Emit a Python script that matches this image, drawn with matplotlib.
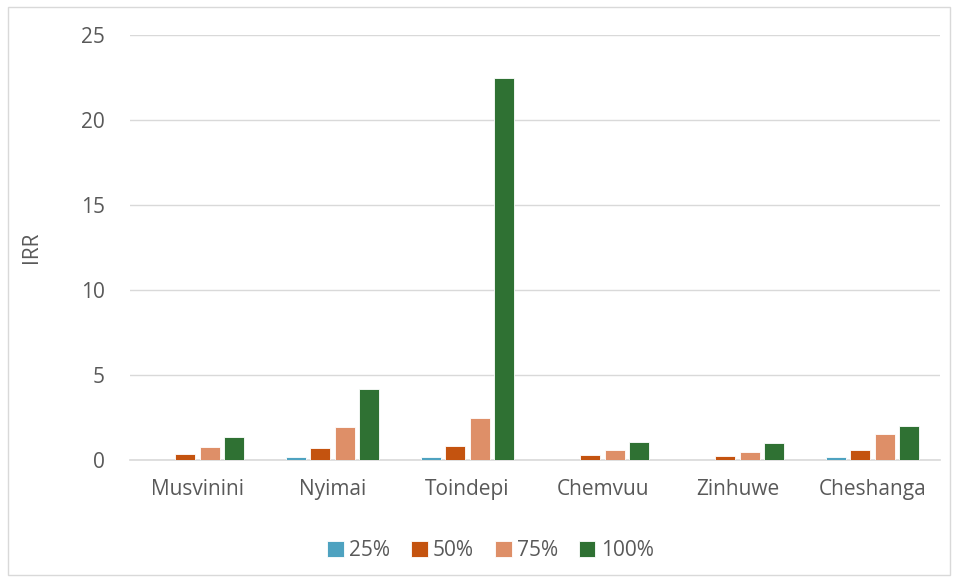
import matplotlib.pyplot as plt
import numpy as np
from matplotlib.patches import Rectangle

sites = ['Musvinini', 'Nyimai', 'Toindepi', 'Chemvuu', 'Zinhuwe', 'Cheshanga']
levels = ['25%', '50%', '75%', '100%']
irr_25 = [0.0, 0.15, 0.2, 0.0, 0.0, 0.15]
irr_50 = [0.35, 0.7, 0.8, 0.27, 0.23, 0.57]
irr_75 = [0.76, 1.92, 2.47, 0.57, 0.49, 1.51]
irr_100 = [1.33, 4.2, 22.5, 1.06, 0.98, 2.0]
colors = ['#4EA2C0', '#C4530F', '#DE8F68', '#2F7133']

plt.rcParams['font.family'] = ['Open Sans', 'DejaVu Sans']
txt = '#595959'
fs = 15

fig = plt.figure(figsize=(9.58, 5.8), dpi=100)
ax = fig.add_axes([130/958, 1-460/580, 810/958, 425/580])

x = np.arange(len(sites))
pitch = 0.181
width = 0.145
for i, (vals, lab) in enumerate(zip([irr_25, irr_50, irr_75, irr_100], levels)):
    ax.bar(x + (i - 1.5)*pitch, vals, width, color=colors[i], label=lab,
           edgecolor='white', linewidth=0.6, zorder=3)

ax.set_xlim(-0.5, len(sites) - 0.5)
ax.set_ylim(0, 25)
ax.set_yticks([0, 5, 10, 15, 20, 25])
ax.set_xticks(x)
ax.set_xticklabels(sites)
ax.grid(axis='y', color='#D9D9D9', linewidth=1, zorder=0)
for s in ['top', 'right', 'left']:
    ax.spines[s].set_visible(False)
ax.spines['bottom'].set_color('#D9D9D9')
ax.spines['bottom'].set_linewidth(1.2)
ax.tick_params(axis='both', length=0, colors=txt, labelsize=fs)
ax.tick_params(axis='y', pad=18)
ax.tick_params(axis='x', pad=14)
ax.set_ylabel('IRR', color=txt, fontsize=fs, labelpad=28)

ax.legend(loc='upper center', bbox_to_anchor=(0.445, -0.145), ncol=4, frameon=False,
          fontsize=fs, labelcolor=txt, handlelength=0.8, handleheight=0.8,
          handletextpad=0.25, columnspacing=1.0)

fig.patches.append(Rectangle((8/958, 5/580), 942/958, 568/580, transform=fig.transFigure,
                             fill=False, edgecolor='#D9D9D9', linewidth=1))

fig.savefig('out.png', dpi=100)
